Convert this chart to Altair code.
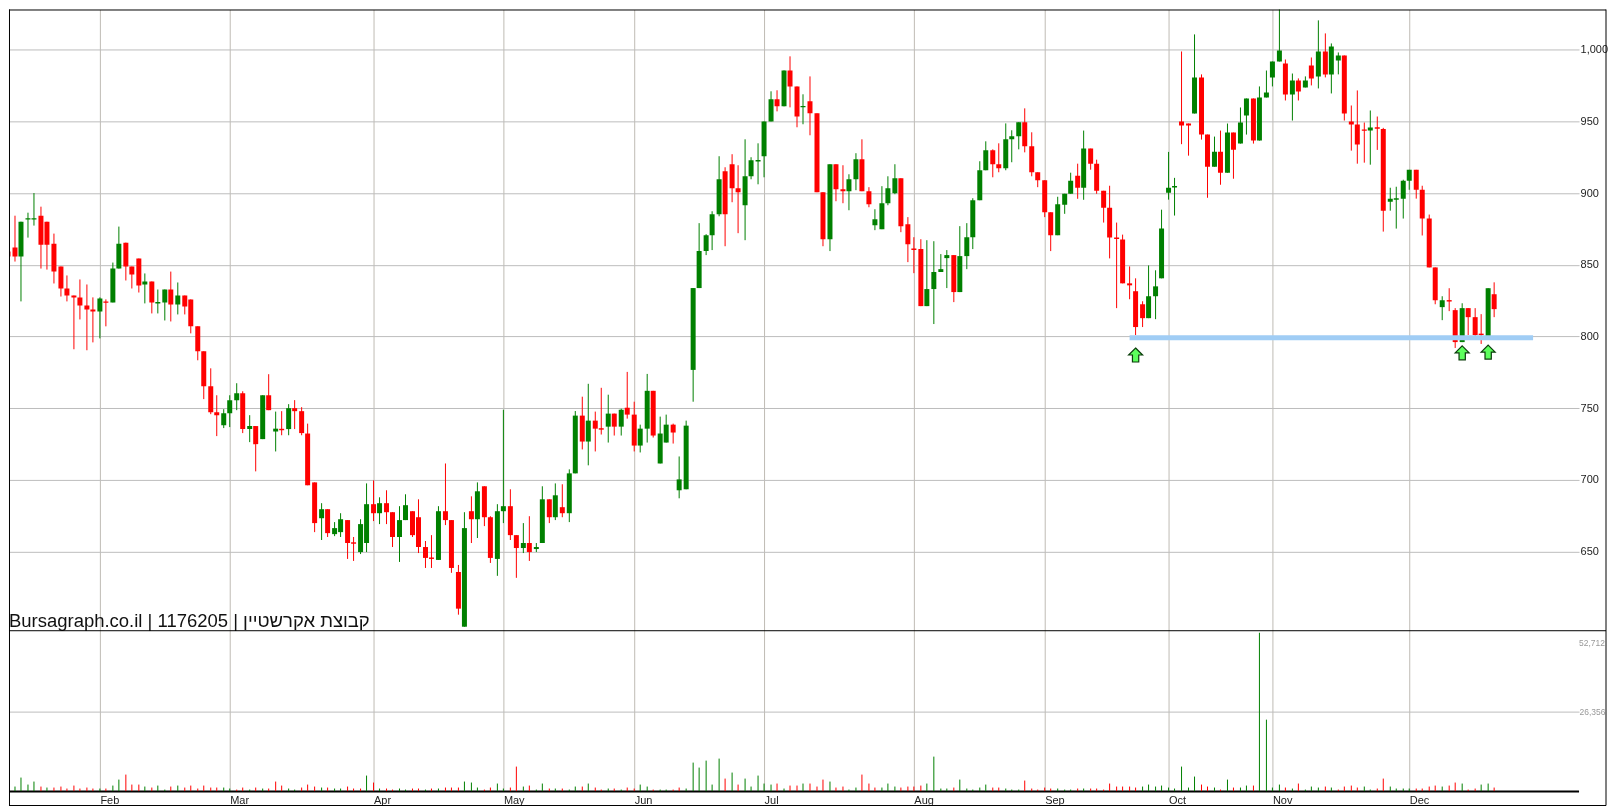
import altair as alt
import pandas as pd

body_top = [859.2,862,880,882.5,882.5,884.2,880,864.7,848.7,833.4,
828.5,827.2,821.6,818.8,826.5,824.4,847.3,864.7,865.4,848.7,
854.3,838.3,838.3,823.9,832.7,832.7,828.5,828.5,825.8,807,
789.6,765.2,747.1,746.4,755.5,760.3,760.3,737.4,737.4,758.9,
758.9,735.6,735.5,749.9,749.9,747.8,732.2,698.1,679.4,679.4,
666.2,672.4,671.8,656.3,669,682.9,682.9,683.6,683.6,677.3,
671.8,682.2,678,673.8,653,645.7,678,678,671.8,635.6,
666.2,678,691.9,695.4,673.8,678,681.5,681.5,661.3,655.8,
655.8,653,686.3,686.3,689.1,680.8,704.4,744.7,744.7,741.2,
741.2,735.9,746.1,746.1,748.8,750.2,745.4,735.6,762,762,
732.2,738.4,738.4,700.2,737.7,833.7,859.5,870.6,885.2,909.6,
915.2,920.1,903.4,911.7,922.9,923.1,950,965.4,965.4,985.6,
985.6,974.4,960.8,964,955.6,900.6,920.1,920.1,902.7,909.6,
923.6,923.6,901.3,881.8,892.9,903.4,910.3,910.3,878.3,861.3,
860.9,833,844.9,846.9,856.7,856.7,856,869.2,895,915.9,
929.8,929.8,920.1,937.5,939.6,949.4,949.4,932.6,914.5,908.9,
886.6,892.2,899.5,908.6,912.1,931,931,920.5,901.6,889.8,
869,867.6,837,831.5,822.4,828,834.9,875.2,903.7,905,
949.9,948.5,980.7,980.7,940.8,928.9,928.9,942.2,942.2,949.2,
966,966,966.7,970.2,991.8,999.5,990.4,978.6,978.6,978.6,
989,998.8,998.8,1002.3,996,996,949.9,947.8,944.4,945.7,
945.9,944.7,896,896.3,908.6,916.2,916.2,902.3,882.2,848.1,
825.2,825.3,818.3,819.7,819.7,813.4,801.9,833.6,829.4]

body_bottom = [855.7,855.7,855.7,881.5,881.5,864,864,845.2,833.4,828.5,
827.2,821.6,818.8,817.4,817.4,823.4,823.7,847.3,848.7,843.2,
835.5,836.2,823.7,822.9,823.7,822.3,822.3,820.9,807,789.6,
765.2,747.1,745,738,746.4,755.5,735.3,735.3,724.8,728.3,
748.5,733.6,734.5,735.3,747.8,732.5,696.1,669.7,673.1,662.7,
662,663.4,655.8,655.3,649.5,655.8,676.6,676.6,677.3,660,
660,671.8,661.3,653,645.4,644.7,644,671.8,638.4,610,
597.4,672.4,672.4,673.8,645.4,644.7,678,661.3,652.3,652.3,
649.5,651.6,655.8,673.8,673.8,676.6,676.6,704.4,726.6,726.6,
735.6,734.9,737,737,737,745.4,723.8,723.8,735.6,730.8,
711.3,725.9,732.9,692.6,693.3,776.6,833.7,859.5,870.6,885.2,
885.2,903.4,900.6,891.5,911.7,922.1,925.7,950,960.5,960.5,
974.4,953.5,959.8,955.6,900.6,867.8,867.8,902.7,901.3,901.3,
909.6,901.3,892.2,877.6,874.8,892.9,899.9,876.9,864.3,860.3,
821.1,821.1,833,844.9,854.6,830.9,830.9,856,869.2,895,
915.9,920.1,917.3,917.3,937.5,939.6,932.6,914.5,908.9,886.6,
870.6,870.6,891.8,899.5,903.7,903.7,920.5,901.6,889.8,869,
868,837,835.6,806.5,812.7,812.7,828,840.5,900.2,903.9,
947.1,947.1,955.5,940.8,918.4,918.4,914.2,914.2,930.3,934.5,
954.1,936.6,936.6,966.7,980.7,991.8,968.8,968.8,970.9,973.7,
980,981.4,982.8,982.8,992.5,955.5,947.8,933.8,943.4,943.6,
944.9,887.7,894,895.3,896.1,908.6,902.3,882.2,848.1,825.2,
820.4,824.3,796,796,813.4,800.9,800.9,800.2,819]

highs = [866.1,884.2,880,886.3,900,890.5,880,871.7,848.7,842.5,
828.5,839.7,836.2,827.2,827.2,825.8,851.5,876.6,865.4,848.7,
854.3,843.9,838.3,832.7,832.7,845.2,837.6,828.5,825.8,807,
789.6,777.7,758.9,749.2,758.9,767.3,761.7,745,737.4,758.9,
773.6,747.5,747.8,752.7,755.5,750.6,739.1,698.1,683.6,679.4,
670.4,676.6,671.8,660,672.4,697.4,699.5,687.7,692.6,677.3,
681.5,689.8,678,686.3,657.2,661.3,681.5,711.3,671.8,640.5,
677.3,688.4,698.1,695.4,674.5,682.9,748.8,693.3,661.3,669.7,
674.5,655.8,695.4,686.3,697.4,696.8,707.2,747.9,757.9,766.9,
747.5,764.1,759.3,746.1,749.5,775.2,754.4,738.4,773.8,762,
744,745.4,739.1,716.2,741.2,833.7,879,871.3,887.3,925.7,
918,927.1,919.4,937.5,925,934.7,950,971,971.7,985.6,
995.4,974.4,968.9,981.4,955.6,900.6,920.1,920.1,919.4,913.1,
927.8,937.5,904.1,888.7,904.8,911.7,920.1,910.3,883.2,869.2,
867.8,867.1,866.4,857.4,860.2,856.7,876.9,879,896.4,922.2,
936.1,930.5,934.7,948.6,943.8,949.4,959.1,942.4,914.5,908.9,
886.6,897.4,899.5,914.2,920.5,943.6,931,923.3,901.6,905.1,
879.4,871,848.8,840.5,824.5,849.5,846.1,888.4,928.7,910.6,
998.8,948.5,1010.7,982.8,940.8,939.4,943.6,948.5,942.2,959.7,
966,966,974.4,985.5,991.8,1028.9,993.2,983.4,980,981.4,
994.6,1020.5,1011.4,1004.4,998.1,996,961.1,971.6,949.2,957.6,
953.4,945.5,903.7,904.4,909.3,916.2,916.2,905.1,885,848.1,
828,833.6,819.7,823.1,819.7,819.7,815.5,833.6,837.7]

lows = [837.6,852.2,824.4,868.9,877.3,847.3,846.6,836.9,827.8,824.4,
791,811.8,790.3,795.8,798.6,807,823.7,847.3,839,833.4,
830.6,823,816,816,811.1,810.4,815.3,815.3,802.1,783.3,
756.2,745.7,730.4,736,736.7,748.5,732.5,726.2,705.8,728.3,
748.5,719.7,731,731,735.3,731,696.1,663.4,657.9,660,
660.6,660,644.7,643.3,648.1,649.5,671.1,669,669,653,
642.6,671.8,660,648.8,638.4,638.4,644,668.3,635,605.8,
597.4,655.8,659.3,667.6,641.9,632.9,669.7,657.9,631.5,648.8,
643.3,649.5,655.8,669.7,671.8,673.8,670.4,704.4,721.1,710,
719.7,731.5,725.9,730.8,730.8,742.6,719.7,719,725.9,729.4,
711.3,725.9,725.2,687,693.3,754.4,833.7,856.7,860.2,883.8,
862.9,893.6,872,867.1,909.6,906.1,911,950,957,960.5,
959.8,945.9,948,940.3,900.6,862.9,859.5,894.3,892.9,888,
902,901.3,890.1,874.1,874.8,891.5,899.2,872.7,851.8,844.1,
821.1,821.1,808.6,844.9,833.7,823.9,830.9,846.9,860.9,895,
915.9,911,914.5,915.9,921.5,930.5,928.4,911.7,904.1,883.2,
859.5,870.6,885.5,899.5,896,895.3,916.3,899.5,879.4,854.4,
819.7,837,825.9,800.9,806.5,812.7,812,840.5,895.4,884.3,
934.1,926.1,955.5,937.3,896.7,918.4,905.8,914.2,910,934.5,
940.8,934.5,936.6,966.7,974.4,991.8,964.6,950.6,964.6,973.7,
975.1,973,980.7,969.5,982.8,950.6,929.6,920.5,921.2,919.8,
930.1,873.1,887.7,875.2,882.2,902.3,896.1,870.4,848.1,822.4,
811.3,817.6,791.9,796,800.9,799.5,794.7,798.8,813.4]

candle_colors = ("rrgggrrrrr" "rrrrgrggrr" "rgrggrgrrr" "rrrgggrgrg" "rgrgrrrrgr"
                 "ggrrggrgrr" "ggrrrrgrrr" "grgrrggrrg" "rggrgrggrg" "rrgrgrrggr"
                 "ggrggggggg" "rrrgggggrg" "rrgrrrgrrg" "grrggggrrr" "rggggrgggg"
                 "grrgggrrrr" "rgggrgrrrr" "rrrrrggggg" "rrgrrgrgrg" "grggggrgrg"
                 "rgrggrrrrg" "rrggggrrrr" "grrgrrrgr")

volumes = [1550,1550,4540,2210,3210,1550,1220,1220,1550,890,
1880,890,1220,890,890,890,1880,3870,5530,2210,
2210,1550,1220,1880,550,1550,1880,1220,1880,890,
1880,1220,1220,1220,890,550,1220,550,1220,890,
890,3210,1880,890,550,1220,2210,1550,1220,1220,
890,890,1550,890,890,5200,2880,890,890,550,
890,550,890,890,550,890,890,1220,1220,1220,
3210,2880,1220,550,1220,2550,890,1220,8190,1550,
1880,550,2550,890,890,890,550,1550,1550,2550,
1220,550,890,890,550,1220,890,2210,1550,550,
550,550,550,1220,890,9520,7860,10180,2210,10850,
4200,6200,2210,4200,1550,5200,2550,2210,2550,890,
1880,1880,2550,2550,1550,3870,3210,1220,1550,550,
1220,5530,2550,1220,1220,2550,1550,1220,1550,1550,
1880,2550,11510,890,890,1220,3870,890,550,1220,
2210,1220,1220,890,550,550,3540,890,550,1220,
890,890,550,550,890,890,890,890,550,2550,
1550,1550,1550,1220,1550,2210,1550,1880,1220,890,
8190,1220,4870,2210,1550,1220,550,3870,1220,1220,
1880,1880,52700,23800,1220,2210,1220,890,2550,550,
1550,1220,1550,1220,550,1550,1880,1220,1550,550,
890,4200,1550,890,890,890,890,890,1550,1880,
1550,1880,2880,2550,550,890,2210,2550,1220]

volume_colors = ("rggggrgrrr" "rrrrgrggrr" "rgrggrgrrr" "rrrggrrgrg" "rrrggrrrgr"
                 "ggrrrgrgrr" "ggrrgrgrrr" "gggrrggrrg" "rggrgrggrg" "rrgrgrrggr"
                 "ggrrgggggg" "rgrgggggrg" "rrgrrrgrrg" "grrrgggrrr" "rggggrgggg"
                 "grrgggrrrr" "rgggrgrrrr" "rrrrgggggg" "gggrrgrgrg" "grggggrgrg"
                 "ggrgrrrrgg" "rrggggrrrr" "grrgrrggr")

month_names = ["Feb", "Mar", "Apr", "May", "Jun", "Jul", "Aug", "Sep", "Oct", "Nov", "Dec"]
month_index = [14, 34, 56, 76, 96, 116, 139, 159, 178, 194, 215]
price_ticks = [650, 700, 750, 800, 850, 900, 950, 1000]
price_labels = ["650", "700", "750", "800", "850", "900", "950", "1,000"]
volume_ticks = [26356]
volume_labels = ["26,356"]
volume_top_label = ["52,712"]
support_level = [{"start": 172, "end": 234, "price": 799}]
arrow_index = [173, 223, 227]
arrow_price = [787, 788.5, 789]
title_text = "Bursagraph.co.il | 1176205 | קבוצת אקרשטיין"

FONT = "Liberation Sans"
GREEN, RED = "#008000", "#FF0000"
W, H = 1572, 783
cmap = {"g": GREEN, "r": RED}

df = pd.DataFrame({
    "i": range(len(highs)), "top": body_top, "bottom": body_bottom, "high": highs, "low": lows,
    "c": [cmap[ch] for ch in candle_colors],
    "vol": volumes, "vc": [cmap[ch] for ch in volume_colors],
})


def label_lookup(labels, values):
    return "%s[indexof(%s, datum.value)]" % (labels, values)


xscale = alt.Scale(domain=[0.107, 240.99], nice=False, zero=False, round=True, padding=0)
xaxis = alt.Axis(values=month_index, labelExpr=label_lookup(month_names, month_index), title=None,
                 grid=True, gridColor="#BFBBB4", gridWidth=1, ticks=False, domain=False,
                 labelAlign="left", labelFont=FONT, labelFontSize=11, labelColor="#222222",
                 labelPadding=3, labelFlush=False, labelOverlap=False)
X = alt.X("i:Q", scale=xscale, axis=xaxis)
price_scale = alt.Scale(domain=[482.4, 1028.08], range=[783, 0], nice=False, zero=False)
price_axis = alt.Axis(orient="right", values=price_ticks, labelExpr=label_lookup(price_labels, price_ticks),
                      title=None, grid=True, gridColor="#BDBDBD", gridWidth=1, ticks=False, domain=False,
                      labelFont=FONT, labelFontSize=11, labelColor="#222222", labelPadding=1,
                      labelOverlap=False)
vol_scale = alt.Scale(domain=[0, 52712], range=[782.7, 624], nice=False)
vol_axis = alt.Axis(orient="right", values=volume_ticks, labelExpr=label_lookup(volume_labels, volume_ticks),
                    title=None, grid=True, gridColor="#BDBDBD", gridWidth=1, ticks=False, domain=False,
                    labelFont=FONT, labelFontSize=8.5, labelColor="#999999", labelPadding=0)

base = alt.Chart(df)
wicks = base.mark_rule(strokeWidth=1, clip=True).encode(
    x=X, y=alt.Y("low:Q", scale=price_scale, axis=price_axis), y2="high:Q",
    color=alt.Color("c:N", scale=None))
bodies = base.mark_bar(size=5, clip=True).encode(
    x=X, y=alt.Y("bottom:Q", scale=price_scale, axis=price_axis), y2="top:Q",
    color=alt.Color("c:N", scale=None))
support = alt.Chart(alt.Data(values=support_level)).mark_rule(
    color="#A0CDF5", strokeWidth=5, blend="multiply", clip=True).encode(
    x=alt.X("start:Q", scale=xscale, axis=xaxis), x2="end:Q",
    y=alt.Y("price:Q", scale=price_scale, axis=price_axis))
arrow_path = "M0,-1 L1,0 L0.45,0 L0.45,1 L-0.45,1 L-0.45,0 L-1,0 Z"
arrows = alt.Chart(pd.DataFrame({"i": arrow_index, "p": arrow_price})).mark_point(
    shape=arrow_path, size=196, filled=True, fill="#5CFF5C", stroke="#0B3D0B", strokeWidth=1.2,
    opacity=1).encode(x=X, y=alt.Y("p:Q", scale=price_scale, axis=price_axis))
one = pd.DataFrame({"t": [title_text]})
title = alt.Chart(one).mark_text(align="left", baseline="alphabetic", font=FONT, fontSize=18.5,
                                 color="#111111").encode(
    x=alt.value(0), y=alt.value(618), text="t:N")


def line(x, x2, y, y2, w=1):
    return alt.Chart(one).mark_rule(color="#000000", strokeWidth=w).encode(
        x=alt.value(x), x2=alt.value(x2), y=alt.value(y), y2=alt.value(y2))


frames = [line(0, 1599, 622, 622), line(0, W, 783, 783, 2), line(0, 1599, 0.5, 0.5),
          line(0.5, 0.5, 0, 797), line(0, 1599, 797, 797), line(1599, 1599, 0, 797)]

price_layer = alt.layer(wicks, bodies, support, arrows, title, *frames)

vol_bars = base.mark_rule(strokeWidth=1, clip=True).encode(
    x=X, y=alt.Y("vol:Q", scale=vol_scale, axis=vol_axis), y2=alt.value(782.7),
    color=alt.Color("vc:N", scale=None))
vol_label = alt.Chart(pd.DataFrame({"t": volume_top_label})).mark_text(
    align="left", baseline="middle", font=FONT, fontSize=8.5, color="#999999").encode(
    x=alt.value(W), y=alt.value(634.7), text="t:N")
volume_layer = alt.layer(vol_bars, vol_label)

chart = alt.layer(price_layer, volume_layer).resolve_scale(y="independent").properties(
    width=W, height=H, padding=0, background="white"
).configure_view(stroke=None)

chart.save("out.html", embed_options={"renderer": "svg", "actions": False})
